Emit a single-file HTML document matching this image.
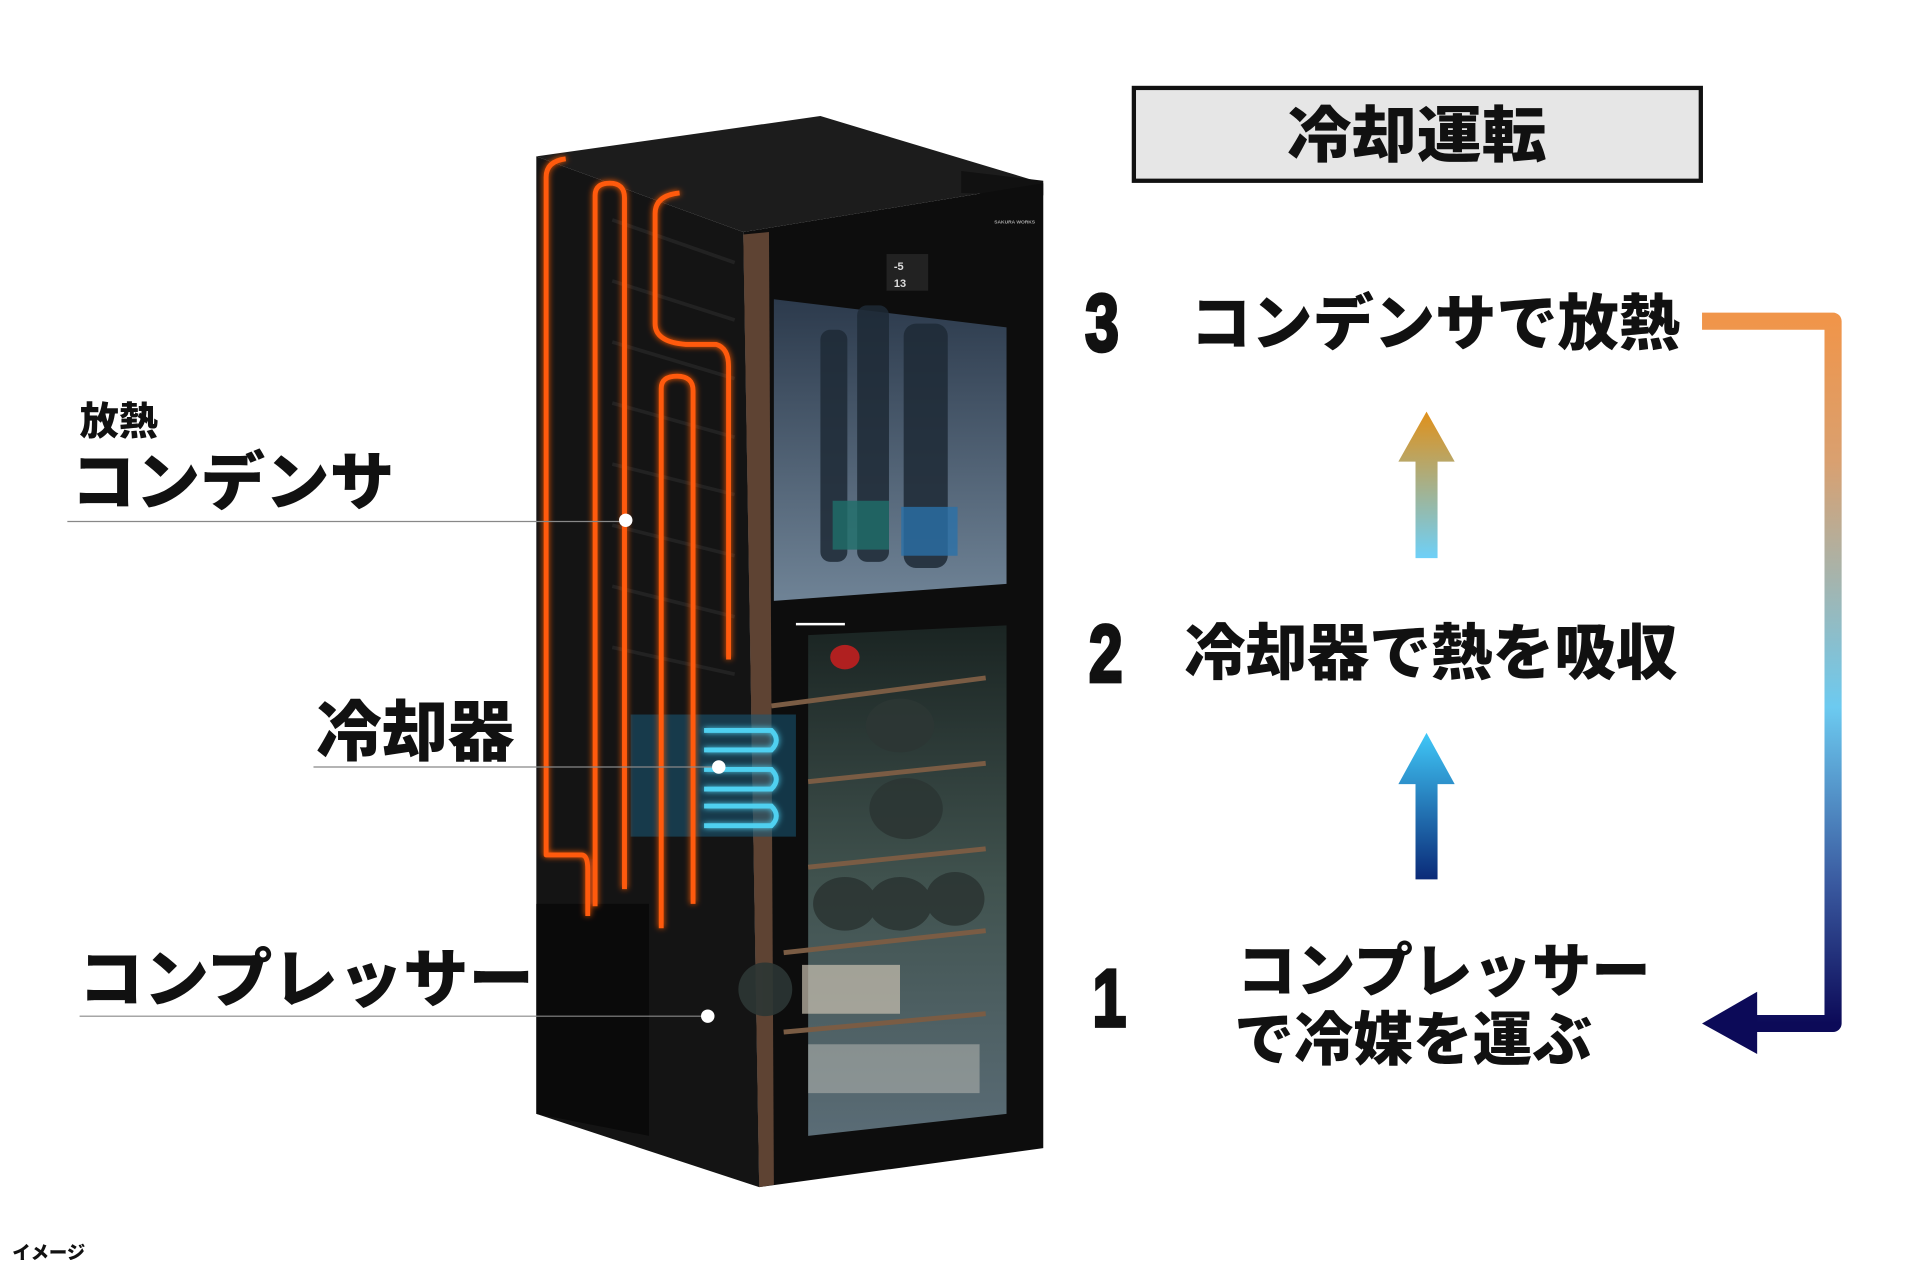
<!DOCTYPE html>
<html><head><meta charset="utf-8"><style>
html,body{margin:0;padding:0;background:#fff;width:1920px;height:1280px;overflow:hidden}
svg{display:block}
text{font-family:"Liberation Sans","Noto Sans CJK JP",sans-serif;font-weight:900}
</style></head><body>
<svg width="1920" height="1280" viewBox="0 0 1568 1048" preserveAspectRatio="none" xmlns="http://www.w3.org/2000/svg">
<defs>
<linearGradient id="conn" x1="0" y1="0" x2="0" y2="1">
<stop offset="0" stop-color="#f0954a"/><stop offset="0.2" stop-color="#d9a070"/><stop offset="0.55" stop-color="#6ccaf0"/><stop offset="0.8" stop-color="#3a5aa0"/><stop offset="1" stop-color="#0c0a58"/></linearGradient>
<linearGradient id="a1" x1="0" y1="0" x2="0" y2="1"><stop offset="0" stop-color="#e0901a"/><stop offset="1" stop-color="#6ed0f8"/></linearGradient>
<linearGradient id="a2" x1="0" y1="0" x2="0" y2="1"><stop offset="0" stop-color="#40c8f8"/><stop offset="1" stop-color="#0a2a78"/></linearGradient>
<linearGradient id="glass" x1="0" y1="0" x2="0" y2="1"><stop offset="0" stop-color="#2c3a4c"/><stop offset="1" stop-color="#6f8396"/></linearGradient>
<linearGradient id="glass2" x1="0" y1="0" x2="0" y2="1"><stop offset="0" stop-color="#1a2422"/><stop offset="0.5" stop-color="#40524e"/><stop offset="1" stop-color="#5a6c76"/></linearGradient>
<filter id="glow" x="-20%" y="-20%" width="140%" height="140%"><feGaussianBlur stdDeviation="2.5" result="b"/><feMerge><feMergeNode in="b"/><feMergeNode in="SourceGraphic"/></feMerge></filter>
</defs>

<polygon points="438,128 670,95 852,150 607,190" fill="#1c1c1c"/>
<polygon points="785,140 852,148 852,160 785,158" fill="#111"/>
<polygon points="438,128 607,190 620,972 438,912" fill="#141414"/>
<polygon points="607,190 852,150 852,940 620,972" fill="#0d0d0d"/>
<polygon points="438,740 530,740 530,930 438,912" fill="#0a0a0a"/>
<polygon points="607,192 628,190 632,970 620,972" fill="#5e4333"/>
<g stroke="#222" stroke-width="3">
<line x1="500" y1="180" x2="600" y2="215"/><line x1="500" y1="230" x2="600" y2="262"/><line x1="500" y1="280" x2="600" y2="310"/><line x1="500" y1="330" x2="600" y2="358"/><line x1="500" y1="380" x2="600" y2="405"/><line x1="500" y1="430" x2="600" y2="455"/><line x1="500" y1="480" x2="600" y2="505"/><line x1="500" y1="530" x2="600" y2="552"/>
</g>
<rect x="724" y="208" width="34" height="30" fill="#222"/>
<text x="730" y="221" font-size="9" fill="#ddd">-5</text><text x="730" y="235" font-size="9" fill="#ddd">13</text>
<text x="812" y="183" font-size="4" fill="#aaa">SAKURA WORKS</text>
<polygon points="632,245 822,268 822,478 632,492" fill="url(#glass)"/>
<g fill="#1e2a36" opacity="0.85">
<rect x="670" y="270" width="22" height="190" rx="8"/><rect x="700" y="250" width="26" height="210" rx="8"/><rect x="738" y="265" width="36" height="200" rx="10"/>
</g>
<rect x="680" y="410" width="46" height="40" fill="#1f6f6a" opacity="0.8"/>
<rect x="736" y="415" width="46" height="40" fill="#2a70a8" opacity="0.8"/>
<line x1="650" y1="511" x2="690" y2="511" stroke="#fff" stroke-width="2"/>
<polygon points="660,520 822,512 822,912 660,930" fill="url(#glass2)"/>
<g stroke="#7a5c44" stroke-width="4">
<line x1="630" y1="578" x2="805" y2="555"/><line x1="660" y1="640" x2="805" y2="625"/><line x1="660" y1="710" x2="805" y2="695"/><line x1="640" y1="780" x2="805" y2="762"/><line x1="640" y1="845" x2="805" y2="830"/>
</g>
<g fill="#2c3634" opacity="0.9">
<ellipse cx="735" cy="594" rx="28" ry="22"/><ellipse cx="740" cy="662" rx="30" ry="25"/><ellipse cx="690" cy="740" rx="26" ry="22"/><ellipse cx="735" cy="740" rx="26" ry="22"/><ellipse cx="780" cy="736" rx="24" ry="22"/><ellipse cx="625" cy="810" rx="22" ry="22"/>
</g>
<rect x="655" y="790" width="80" height="40" fill="#c9c0b0" opacity="0.7"/>
<rect x="660" y="855" width="140" height="40" fill="#bdbdb8" opacity="0.5"/>
<ellipse cx="690" cy="538" rx="12" ry="10" fill="#b02020"/>
<rect x="515" y="585" width="135" height="100" fill="#1a5a78" opacity="0.55"/>
<g fill="none" stroke="#4fd0f0" stroke-width="4" filter="url(#glow)">
<path d="M575,598 H630 Q638,606 630,614 H575"/><path d="M575,630 H630 Q638,638 630,646 H575"/><path d="M575,660 H630 Q638,668 630,676 H575"/>
</g>
<g fill="none" stroke="#ff5a0a" stroke-width="4" filter="url(#glow)" stroke-linejoin="round">
<path d="M462,130 Q446,132 446,145 V700 H475 Q480,700 480,712 V750"/>
<path d="M486,742 V160 Q486,150 498,150 Q510,150 510,162 V728"/>
<path d="M555,158 Q535,160 535,175 V265 Q535,280 560,282 H585 Q595,285 595,300 V540"/>
<path d="M540,760 V318 Q540,308 553,308 Q566,308 566,320 V740"/>
</g>
<g stroke="#888" stroke-width="1">
<line x1="55" y1="427" x2="511" y2="427"/><line x1="256" y1="628" x2="587" y2="628"/><line x1="65" y1="832" x2="578" y2="832"/>
</g>
<g fill="#fff"><circle cx="511" cy="426" r="5.5"/><circle cx="587" cy="628" r="5.5"/><circle cx="578" cy="832" r="5.5"/></g>

<text x="65" y="356" font-size="32" fill="#111">放熱</text>
<text x="58" y="413" font-size="52" fill="#111" textLength="264" lengthAdjust="spacingAndGlyphs">コンデンサ</text>
<text x="258" y="618" font-size="54" fill="#111" textLength="162" lengthAdjust="spacingAndGlyphs">冷却器</text>
<text x="64" y="820" font-size="52" fill="#111" textLength="372" lengthAdjust="spacingAndGlyphs">コンプレッサー</text>
<text x="10" y="1031" font-size="15" fill="#111">イメージ</text>

<rect x="926" y="72" width="463" height="76" fill="#e6e6e6" stroke="#111" stroke-width="3.5"/>
<text x="1157" y="128" font-size="50" fill="#111" text-anchor="middle" textLength="212" lengthAdjust="spacingAndGlyphs">冷却運転</text>

<g stroke="#111" stroke-width="3">
<text x="900" y="287" font-size="66" fill="#111" text-anchor="middle" transform="translate(900,287) scale(0.75,1) translate(-900,-287)">3</text>
<text x="903" y="558" font-size="66" fill="#111" text-anchor="middle" transform="translate(903,558) scale(0.75,1) translate(-903,-558)">2</text>
<text x="906" y="840" font-size="66" fill="#111" text-anchor="middle" transform="translate(906,840) scale(0.75,1) translate(-906,-840)">1</text>
</g>
<text x="972" y="282" font-size="50" fill="#111" textLength="400" lengthAdjust="spacingAndGlyphs">コンデンサで放熱</text>
<text x="967" y="552" font-size="50" fill="#111" textLength="403" lengthAdjust="spacingAndGlyphs">冷却器で熱を吸収</text>
<text x="1010" y="812" font-size="48" fill="#111" textLength="338" lengthAdjust="spacingAndGlyphs">コンプレッサー</text>
<text x="1008" y="868" font-size="48" fill="#111" textLength="292" lengthAdjust="spacingAndGlyphs">で冷媒を運ぶ</text>

<polygon points="1165,337 1188,378 1174,378 1174,457 1156,457 1156,378 1142,378" fill="url(#a1)"/>
<polygon points="1165,600 1188,642 1174,642 1174,720 1156,720 1156,642 1142,642" fill="url(#a2)"/>

<path d="M1390,263 H1497 V838 H1432" fill="none" stroke="url(#conn)" stroke-width="14" stroke-linejoin="round"/>
<polygon points="1390,838 1435,812 1435,863" fill="#0c0a58"/>
</svg>
</body></html>
